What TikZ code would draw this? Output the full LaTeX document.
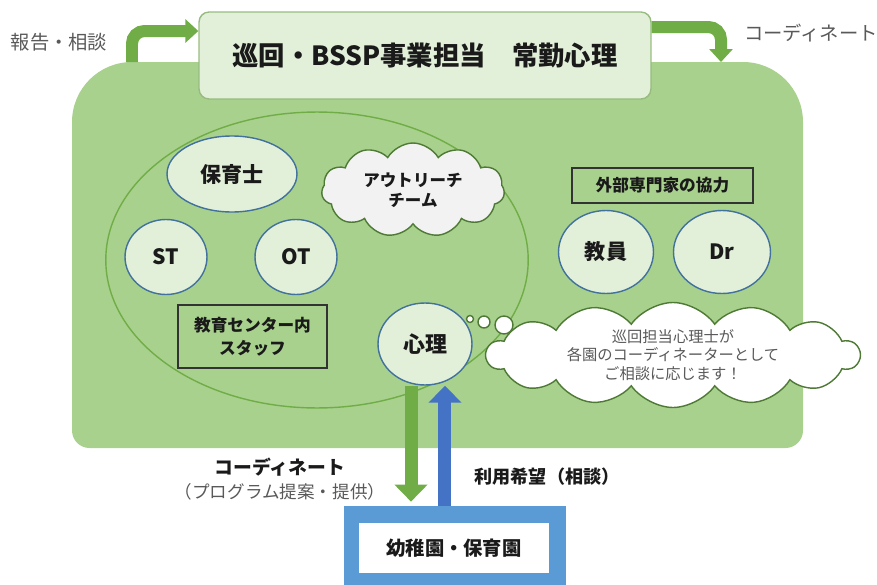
\documentclass[tikz,border=0pt]{standalone}
\usepackage{fontspec}
\setmainfont{Noto Sans CJK JP}
\usetikzlibrary{shapes.symbols,shapes.geometric,arrows.meta}
\definecolor{panelgreen}{HTML}{A9D18E}
\definecolor{palegreen}{HTML}{E2F0D9}
\definecolor{arrowgreen}{HTML}{70AD47}
\definecolor{ringblue}{HTML}{41719C}
\definecolor{cloudline}{HTML}{4E7A35}
\definecolor{labelgray}{HTML}{595959}
\definecolor{upblue}{HTML}{4472C4}
\definecolor{boxblue}{HTML}{5B9BD5}
\definecolor{inkblack}{HTML}{1A1A1A}
\newcommand{\fsz}[2]{\fontsize{#1pt}{#2pt}\selectfont}
\begin{document}
\begin{tikzpicture}[x=0.02cm,y=-0.02cm]
    \tikzset{
      staff/.style={ellipse,draw=ringblue,line width=0.8pt,fill=palegreen,text=inkblack,font=\fsz{12}{14}\bfseries,inner sep=0pt},
      labelbox/.style={draw=black!80,line width=0.8pt,align=center,text=inkblack,font=\fsz{9.5}{13}\bfseries,inner sep=0pt},
      puff/.style={cloud,cloud puffs=11,cloud puff arc=120,cloud ignores aspect,draw=cloudline,line width=0.8pt,align=center,inner sep=0pt},
      bubble/.style={circle,draw=cloudline,line width=0.8pt,fill=white,inner sep=0pt},
      fatarrow/.style={line width=0.24cm,arrowgreen,-{Triangle[width=0.46cm,length=0.26cm]}},
      updown/.style={line width=0.26cm,-{Triangle[width=0.64cm,length=0.34cm]}}
    }
    \useasboundingbox (0,0) rectangle (877,585);
    \clip (0,0) rectangle (877,585);
    \fill [panelgreen] (72,250) [rounded corners=1.2cm] -- (72,62) -- (803,62) -- (803,250) [rounded corners=0.35cm] -- (803,448) -- (72,448) -- cycle;
    \node [ellipse,draw=arrowgreen,line width=0.8pt,minimum width=8.45cm,minimum height=5.92cm] (naibu) at (317,260) {};
    \node [draw=panelgreen!90!black,line width=0.8pt,fill=palegreen,rounded corners=0.2cm,minimum width=9.04cm,minimum height=1.74cm,text=inkblack,font=\fsz{15}{18}\bfseries] (junkai) at (425,55.5) {巡回・BSSP事業担当　常勤心理};
    \coordinate (panelTL) at (132,62);
    \coordinate (panelTR) at (721,62);
    \draw [fatarrow,rounded corners=0.25cm] (panelTL) |- ([yshift=0.49cm]junkai.west);
    \draw [fatarrow,rounded corners=0.25cm] ([yshift=0.57cm]junkai.east) -| (panelTR);
    \node [text=labelgray,font=\fsz{11}{13}] (hokoku) at (59,42) {報告・相談};
    \node [text=labelgray,font=\fsz{11}{13}] (coordtop) at (811,33) {コーディネート};
    \node [staff,minimum width=2.6cm,minimum height=1.52cm] (hoikushi) at (232,174) {保育士};
    \node [staff,minimum width=1.64cm,minimum height=1.5cm] (st) at (166,257) {ST};
    \node [staff,minimum width=1.64cm,minimum height=1.5cm] (ot) at (296,257) {OT};
    \node [labelbox,minimum width=2.98cm,minimum height=1.26cm] (center) at (252.5,336.5) {教育センター内\\スタッフ};
    \node [puff,fill=black!5,minimum width=3.66cm,minimum height=1.88cm,text=inkblack,font=\fsz{9.4}{11.4}\bfseries] (outreach) at (413,190) {アウトリーチ\\チーム};
    \node [labelbox,minimum width=3.62cm,minimum height=0.7cm] (gaibu) at (662.5,185.5) {外部専門家の協力};
    \node [staff,minimum width=1.9cm,minimum height=1.66cm] (kyoin) at (606,252) {教員};
    \node [staff,minimum width=1.94cm,minimum height=1.66cm] (dr) at (722,252) {Dr};
    \node [staff,minimum width=1.88cm,minimum height=1.64cm,font=\fsz{12.5}{14}\bfseries] (shinri) at (425,344) {心理};
    \node [bubble,minimum size=0.14cm] (bub1) at (470,319) {};
    \node [bubble,minimum size=0.24cm] (bub2) at (484,322) {};
    \node [bubble,minimum size=0.36cm] (bub3) at (504,325) {};
    \node [puff,cloud puffs=14,cloud puff arc=110,fill=white,minimum width=7.46cm,minimum height=2.1cm,text=labelgray,font=\fsz{8.7}{10.4}] (soudan) at (673,355) {巡回担当心理士が\\各園のコーディネーターとして\\ご相談に応じます！};
    \node [fill=boxblue,minimum width=4.44cm,minimum height=1.68cm] (en) at (455,548) {};
    \node [fill=white,minimum width=3.8cm,minimum height=1cm,text=inkblack,font=\fsz{11}{13}\bfseries] (enname) at (454,548) {幼稚園・保育園};
    \draw [updown,arrowgreen,shorten >=0.08cm] ([xshift=-0.28cm]shinri.south) -- ([xshift=-0.28cm]shinri.south |- en.north);
    \draw [updown,upblue] ([xshift=0.4cm]shinri.south |- en.north) -- ([xshift=0.4cm]shinri.south);
    \node [text=inkblack,font=\fsz{10.7}{13}\bfseries] (coordlow) at (280,467) {コーディネート};
    \node [text=labelgray,font=\fsz{10}{12}] (teian) at (280,492) {（プログラム提案・提供）};
    \node [text=inkblack,font=\fsz{10.3}{12}\bfseries] (kibou) at (547,477) {利用希望（相談）};
\end{tikzpicture}
\end{document}
